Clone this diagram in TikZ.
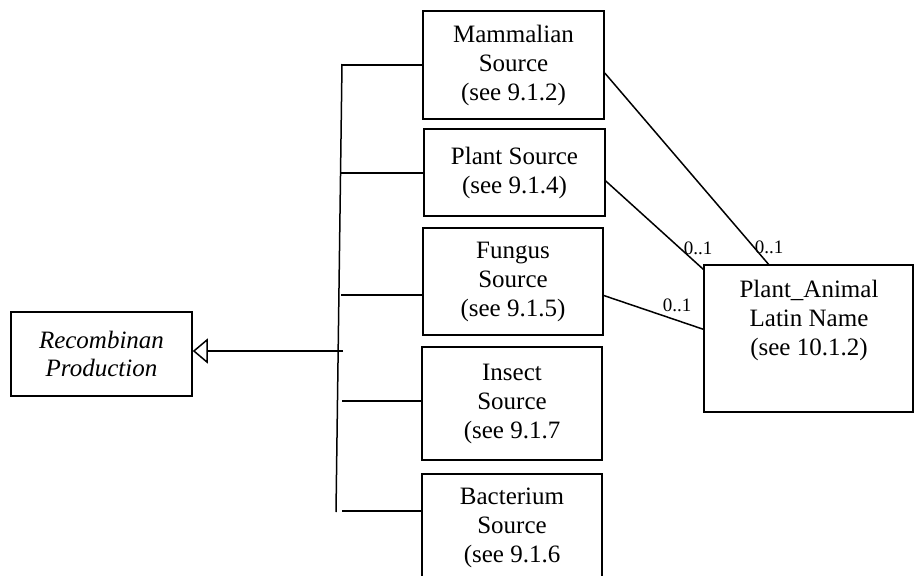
\documentclass[tikz,border=0pt]{standalone}
\usepackage{fontspec}
\setmainfont{Liberation Serif}
\usetikzlibrary{arrows.meta,calc}
\begin{document}
\begin{tikzpicture}[x=1pt,y=-1pt,
  box/.style={draw,line width=1.5pt,inner sep=0pt,align=center,font=\fontsize{25}{29}\selectfont},
  txt/.style={inner sep=0pt,align=center,font=\fontsize{25}{29}\selectfont},
  conn/.style={line width=1.5pt},
  mult/.style={inner sep=0pt,font=\fontsize{19}{22}\selectfont,anchor=base}]
\useasboundingbox (0,0) rectangle (914,576);
\clip (0,0) rectangle (914,576);
\fill[white] (0,0) rectangle (914,576);
% class boxes
\node[box,minimum width=181pt,minimum height=84pt,font=\fontsize{25}{28}\selectfont\itshape] (rec) at (101.5,354) {Recombinan\\Production};
\node[box,minimum width=181pt,minimum height=108pt] (mam) at (513.5,65) {Mammalian\\Source\\(see 9.1.2)};
\node[box,minimum width=181pt,minimum height=87pt] (pla) at (514.5,172.5) {Plant Source\\(see 9.1.4)};
\node[box,minimum width=180pt,minimum height=107pt] (fun) at (513,281.5) {Fungus\\Source\\(see 9.1.5)};
\node[box,minimum width=180pt,minimum height=113pt] (ins) at (512,403.5) {Insect\\Source\\(see 9.1.7};
\node[box,minimum width=180pt,minimum height=108pt] (bac) at (512,528) {Bacterium\\Source\\(see 9.1.6};
\node[draw,line width=1.5pt,inner sep=0pt,minimum width=209pt,minimum height=147pt] (pa) at (808.5,338.5) {};
\node[txt] (patext) at (809,320) {Plant\_Animal\\Latin Name\\(see 10.1.2)};
% generalization bus
\coordinate (bt) at (342,64);
\coordinate (bb) at (336,512);
\draw[conn] (bt) -- (bb);
\coordinate (b1) at (342,65);
\coordinate (b2) at (341,173);
\coordinate (b3) at (341,295);
\coordinate (b4) at (342,401);
\coordinate (b5) at (342,511);
\draw[conn] (b1) -- (b1 -| mam.west);
\draw[conn] (b2) -- (b2 -| pla.west);
\draw[conn] (b3) -- (b3 -| fun.west);
\draw[conn] (b4) -- (b4 -| ins.west);
\draw[conn] (b5) -- (b5 -| bac.west);
\coordinate (j) at (343,351);
\draw[conn,-{Triangle[open,length=15pt,width=25pt,line width=1.5pt]}] (j) -- (rec.east |- j);
% associations
\draw[conn] ([yshift=-8pt]mam.east) -- ([xshift=-40pt]pa.north);
\draw[conn] ([yshift=-8.5pt]pla.east) -- ([yshift=-5pt]pa.north west);
\draw[conn] ([yshift=-14pt]fun.east) -- ([yshift=-65pt]pa.north west);
\node[mult] (m1) at (769,253) {0..1};
\node[mult] (m2) at (698,254) {0..1};
\node[mult] (m3) at (677,311) {0..1};
\end{tikzpicture}
\end{document}
